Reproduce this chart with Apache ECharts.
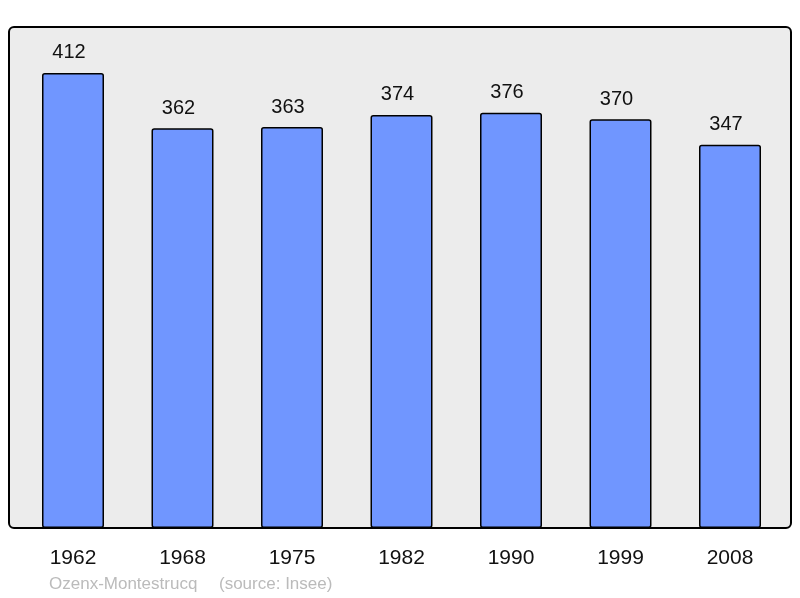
<!DOCTYPE html>
<html>
<head>
<meta charset="utf-8">
<script src="https://cdn.jsdelivr.net/npm/echarts@6/dist/echarts.min.js"></script>
<style>
  html, body { margin: 0; padding: 0; background: #fff; }
  #chart { width: 800px; height: 598px; }
</style>
</head>
<body>
<div id="chart"></div>
<script>
const years = ["1962", "1968", "1975", "1982", "1990", "1999", "2008"];
const population = [412, 362, 363, 374, 376, 370, 347];
const commune = "Ozenx-Montestrucq";
const source = "(source: Insee)";

const chart = echarts.init(document.getElementById("chart"));
const font = "'Liberation Sans', Arial, sans-serif";

chart.setOption({
  animation: false,
  backgroundColor: "#ffffff",
  grid: { left: 18.25, width: 766.5, top: 27, bottom: 70, containLabel: false },
  graphic: [
    {
      type: "rect",
      z: -10,
      shape: { x: 9, y: 27, width: 782, height: 501, r: 5 },
      style: { fill: "#ececec", stroke: "#000", lineWidth: 2 }
    },
    {
      type: "text",
      left: 49,
      top: 576,
      style: { text: commune, fill: "#bbbbbb", font: "17px " + font }
    },
    {
      type: "text",
      left: 219,
      top: 576,
      style: { text: source, fill: "#bbbbbb", font: "17px " + font }
    }
  ],
  xAxis: {
    type: "category",
    data: years,
    axisLine: { show: false },
    axisTick: { show: false },
    axisLabel: { fontSize: 21, color: "#111", fontFamily: font, margin: 20 }
  },
  yAxis: {
    type: "value",
    min: 0,
    max: 453.6,
    show: false,
    splitLine: { show: false }
  },
  series: [
    {
      type: "bar",
      data: population,
      barWidth: 62,
      itemStyle: {
        color: "#7096ff",
        borderColor: "#000",
        borderWidth: 1.5,
        borderRadius: 2
      },
      label: {
        show: true,
        position: "top",
        distance: 10,
        offset: [-4, 0],
        fontSize: 20,
        color: "#111",
        fontFamily: font
      }
    }
  ]
});
</script>
</body>
</html>
